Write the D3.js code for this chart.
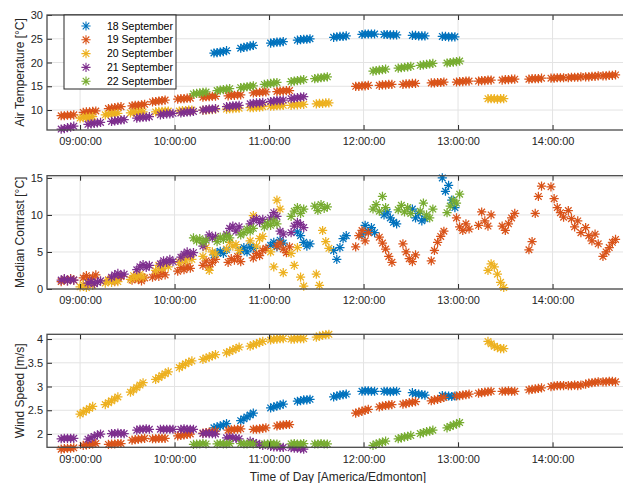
<!DOCTYPE html>
<html>
<head>
<meta charset="utf-8">
<script src="https://cdn.jsdelivr.net/npm/d3@7"></script>
<style>
  body { margin: 0; background: #fff; }
  svg { display: block; font-family: Arial, "Liberation Sans", sans-serif; }
</style>
</head>
<body>
<svg id="chart" width="623" height="483"></svg>
<script>
// sample times in minutes after midnight, one value per recorded point
const time18 = [625,627,629,631,633, 642,644,646,648,650, 661,663,665,667,669, 678,680,682,684,686, 701,703,705,707,709, 719,721,723,725,727, 733,735,737,739,741, 751,753,755,757,759, 770,772,774,776,778];
const temp18 = [22.0,22.1,22.2,22.3,22.5, 23.0,23.2,23.3,23.5,23.6, 24.1,24.2,24.3,24.3,24.4, 24.7,24.8,24.9,24.9,25.0, 25.3,25.4,25.5,25.5,25.6, 25.9,26.0,26.0,26.0,26.0, 25.9,25.9,25.8,25.8,25.8, 25.7,25.7,25.6,25.6,25.6, 25.5,25.5,25.4,25.4,25.4];
const contrast18 = [4.6,4.9,5.1,4.8,5.3, 5.2,5.6,5.0,5.8,5.5, 5.9,6.3,5.7,6.6,6.2, 7.7,7.2,6.3,5.8,6.1, 5.2,4.0,5.6,6.8,7.2, 7.3,8.6,7.8,8.3,7.6, 10.0,10.4,9.6,9.0,8.8, 10.8,9.6,10.2,9.2,9.5, 15.0,13.2,14.0,12.0,11.0];
const wind18 = [2.13,2.15,2.17,2.19,2.22, 2.28,2.32,2.36,2.40,2.44, 2.55,2.57,2.59,2.61,2.63, 2.69,2.70,2.72,2.72,2.73, 2.78,2.80,2.82,2.83,2.84, 2.90,2.91,2.91,2.90,2.90, 2.90,2.90,2.89,2.90,2.90, 2.87,2.85,2.84,2.83,2.82, 2.81,2.80,2.80,2.79,2.80];

const time19 = [528,530,532,534,536, 542,544,546,548,550, 558,560,562,564,566, 573,575,577,579,581, 586,588,590,592,594, 602,604,606,608,610, 618,620,622,624,626, 634,636,638,640,642, 650,652,654,656,658, 665,667,669,671,673, 715,717,719,721,723, 730,732,734,736,738, 745,747,749,751,753, 763,765,767,769,771, 779,781,783,785,787, 793,795,797,799,801, 808,810,812,814,816, 825,827,829,831,833, 839,841,843,845,847, 850,852,854,856,858, 861,863,865,867,869, 872,874,876,878,880];
const temp19 = [8.8,8.8,8.9,8.9,9.0, 9.5,9.6,9.6,9.7,9.8, 10.3,10.4,10.5,10.6,10.7, 10.9,11.0,11.0,11.1,11.2, 11.7,11.8,11.9,12.0,12.1, 12.3,12.4,12.4,12.5,12.5, 12.7,12.8,12.8,12.9,12.9, 13.0,13.1,13.1,13.2,13.2, 13.6,13.7,13.7,13.8,13.8, 13.9,14.0,14.0,14.1,14.1, 15.0,15.0,15.1,15.1,15.2, 15.2,15.3,15.3,15.4,15.4, 15.4,15.5,15.5,15.6,15.6, 15.7,15.7,15.8,15.8,15.9, 15.9,16.0,16.0,16.1,16.1, 16.1,16.2,16.2,16.3,16.3, 16.3,16.4,16.4,16.5,16.5, 16.5,16.6,16.6,16.6,16.7, 16.7,16.7,16.8,16.8,16.8, 16.8,16.9,16.9,16.9,17.0, 17.0,17.0,17.1,17.1,17.2, 17.2,17.2,17.3,17.3,17.4];
const contrast19 = [1.0,1.3,1.1,1.4,1.2, 1.5,1.8,1.3,1.6,1.9, 1.2,1.5,1.0,1.4,1.7, 1.2,1.6,1.3,1.1,1.5, 1.6,2.0,1.7,2.2,1.9, 2.4,2.9,2.6,3.1,2.8, 3.2,3.8,3.0,3.6,4.0, 3.6,4.1,3.9,4.4,3.7, 4.2,4.8,4.5,5.2,5.5, 5.8,6.2,5.4,4.9,5.7, 5.7,7.2,7.9,6.5,7.6, 7.0,6.2,5.4,4.4,3.6, 6.1,5.0,4.1,3.7,4.6, 3.8,5.2,6.3,7.1,7.8, 9.6,8.4,7.9,8.8,8.1, 8.6,10.4,9.2,8.5,10.0, 8.5,7.9,8.8,9.6,10.2, 5.3,6.4,10.2,12.5,13.9, 13.8,12.2,11.0,10.3,9.7, 10.6,9.5,8.4,9.2,7.6, 8.3,7.2,6.5,7.4,6.1, 4.4,5.0,5.6,6.3,6.7];
const wind19 = [1.68,1.69,1.70,1.70,1.71, 1.76,1.77,1.78,1.79,1.80, 1.78,1.79,1.79,1.80,1.80, 1.87,1.88,1.89,1.90,1.91, 1.90,1.90,1.91,1.91,1.91, 1.96,1.97,1.98,1.99,2.00, 2.02,2.03,2.04,2.05,2.06, 2.08,2.09,2.10,2.10,2.11, 2.10,2.10,2.11,2.12,2.13, 2.17,2.18,2.19,2.20,2.20, 2.44,2.46,2.48,2.50,2.52, 2.57,2.59,2.60,2.61,2.62, 2.63,2.64,2.66,2.67,2.68, 2.70,2.72,2.73,2.75,2.77, 2.80,2.81,2.82,2.83,2.84, 2.86,2.87,2.88,2.89,2.90, 2.90,2.90,2.91,2.90,2.90, 2.93,2.94,2.95,2.96,2.97, 3.00,3.01,3.02,3.02,3.02, 3.02,3.02,3.03,3.02,3.03, 3.05,3.07,3.08,3.09,3.10, 3.10,3.10,3.11,3.11,3.10];

const time20 = [540,542,544,546,548, 556,558,560,562,564, 572,574,576,578,580, 588,590,592,594,596, 603,605,607,609,611, 618,620,622,624,626, 633,635,637,639,641, 648,650,652,654,656, 661,663,665,667,669, 674,676,678,680,682, 690,692,694,696,698, 799,801,803,805,807,809];
const temp20 = [8.3,8.4,8.5,8.5,8.6, 9.0,9.1,9.2,9.2,9.3, 9.4,9.5,9.5,9.6,9.6, 9.6,9.7,9.7,9.8,9.8, 9.8,9.9,9.9,10.0,10.0, 10.0,10.0,10.1,10.1,10.2, 10.2,10.3,10.3,10.4,10.4, 10.5,10.5,10.6,10.6,10.7, 10.8,10.8,10.9,10.9,11.0, 11.0,11.1,11.1,11.2,11.2, 11.3,11.4,11.4,11.5,11.5, 12.4,12.4,12.4,12.3,12.4,12.4];
const contrast20 = [0.3,0.6,0.2,0.8,0.5, 0.8,1.2,0.9,1.3,1.0, 1.3,1.8,1.5,2.0,1.6, 2.5,3.2,2.8,3.4,3.0, 3.6,4.2,3.8,4.5,4.0, 4.4,5.6,2.5,5.0,4.7, 5.4,6.3,5.8,6.0,5.2, 6.5,9.9,5.8,6.8,7.1, 5.0,3.0,12.0,10.8,2.2, 4.8,3.2,5.6,1.6,0.4, 2.0,0.5,7.9,6.4,5.5, 2.5,3.4,3.0,2.0,0.9,0.2];
const wind20 = [2.42,2.46,2.50,2.54,2.58, 2.62,2.66,2.70,2.74,2.78, 2.88,2.93,2.98,3.03,3.08, 3.15,3.19,3.23,3.27,3.31, 3.40,3.44,3.48,3.51,3.54, 3.57,3.60,3.62,3.65,3.67, 3.71,3.74,3.77,3.80,3.83, 3.85,3.88,3.90,3.93,3.95, 3.98,4.00,4.00,4.01,4.01, 4.00,4.00,4.01,4.01,4.01, 4.04,4.06,4.08,4.09,4.10, 3.95,3.90,3.85,3.82,3.80,3.80];

const time21 = [528,530,532,534,536, 545,547,549,551,553, 560,562,564,566,568, 576,578,580,582,584, 591,593,595,597,599, 604,606,608,610,612, 618,620,622,624,626, 633,635,637,639,641, 648,650,652,654,656, 661,663,665,667,669, 674,676,678,680,682];
const temp21 = [6.0,6.1,6.3,6.4,6.6, 7.0,7.1,7.2,7.3,7.4, 7.6,7.7,7.8,7.9,8.0, 8.3,8.4,8.5,8.5,8.6, 9.0,9.1,9.2,9.2,9.3, 9.4,9.5,9.6,9.6,9.7, 10.0,10.1,10.2,10.2,10.3, 10.7,10.8,10.9,10.9,11.0, 11.3,11.4,11.5,11.5,11.6, 11.8,11.9,12.0,12.0,12.1, 12.4,12.5,12.6,12.7,12.8];
const contrast21 = [1.2,1.4,1.1,1.3,1.2, 0.8,1.0,0.7,0.9,1.1, 1.6,1.9,2.1,1.8,2.0, 2.6,3.0,3.3,2.9,3.2, 3.4,3.8,3.6,4.0,3.7, 4.3,4.7,5.0,4.6,4.9, 5.8,6.6,7.3,6.9,7.1, 7.4,8.2,8.5,7.8,8.4, 8.8,9.3,9.5,9.0,9.4, 9.6,10.3,9.8,7.8,7.4, 7.6,8.5,9.0,8.7,8.3];
const wind21 = [1.90,1.91,1.91,1.91,1.91, 1.89,1.92,1.95,1.98,2.00, 2.01,2.01,2.02,2.01,2.01, 2.08,2.10,2.10,2.11,2.10, 2.10,2.10,2.10,2.10,2.10, 2.10,2.11,2.10,2.10,2.10, 2.01,2.02,2.01,2.01,2.00, 1.92,1.93,1.92,1.91,1.90, 1.85,1.82,1.80,1.78,1.76, 1.74,1.73,1.73,1.72,1.72, 1.71,1.70,1.70,1.69,1.68];

const time22 = [612,614,616,618,620, 627,629,631,633,635, 642,644,646,648,650, 657,659,661,663,665, 674,676,678,680,682, 689,691,693,695,697, 726,728,730,732,734, 742,744,746,748,750, 756,758,760,762,764, 773,775,777,779,781];
const temp22 = [13.4,13.5,13.6,13.7,13.8, 14.1,14.2,14.3,14.4,14.5, 14.7,14.8,14.9,15.0,15.1, 15.4,15.5,15.6,15.7,15.8, 16.0,16.1,16.2,16.3,16.4, 16.6,16.7,16.8,16.9,17.0, 18.2,18.3,18.4,18.5,18.6, 18.8,18.9,19.0,19.1,19.2, 19.4,19.5,19.6,19.7,19.8, 19.9,20.0,20.1,20.2,20.3];
const contrast22 = [6.9,6.5,6.8,6.3,6.6, 6.4,7.0,6.7,7.2,6.9, 7.3,7.6,8.1,7.8,8.2, 8.4,8.9,8.6,9.2,8.8, 9.8,10.5,11.0,10.2,10.8, 11.2,10.6,11.4,10.9,11.1, 10.8,11.4,10.5,12.5,11.0, 10.7,11.3,10.4,11.0,10.2, 10.5,11.6,10.0,9.6,10.8, 10.3,11.2,12.0,11.6,12.8];
const wind22 = [1.78,1.79,1.79,1.80,1.79, 1.79,1.80,1.79,1.79,1.80, 1.80,1.79,1.79,1.80,1.79, 1.79,1.79,1.80,1.79,1.79, 1.79,1.80,1.79,1.79,1.80, 1.79,1.79,1.80,1.79,1.79, 1.76,1.79,1.81,1.83,1.85, 1.90,1.92,1.94,1.95,1.97, 2.01,2.03,2.05,2.06,2.08, 2.13,2.16,2.19,2.21,2.24];

const dayNames = ['18 September', '19 September', '20 September', '21 September', '22 September'];
const dayColors = ['#0072BD', '#D95319', '#EDB120', '#7E2F8E', '#77AC30'];
const timeTicks = [540, 600, 660, 720, 780, 840];
const tempTicks = [10, 15, 20, 25, 30];
const contrastTicks = [0, 5, 10, 15];
const windTicks = [2, 2.5, 3, 3.5, 4];

const days = [
  { time: time18, temp: temp18, contrast: contrast18, wind: wind18 },
  { time: time19, temp: temp19, contrast: contrast19, wind: wind19 },
  { time: time20, temp: temp20, contrast: contrast20, wind: wind20 },
  { time: time21, temp: temp21, contrast: contrast21, wind: wind21 },
  { time: time22, temp: temp22, contrast: contrast22, wind: wind22 }
];

const panels = [
  { key: 'temp', top: 15, bottom: 130, domain: [5.8, 30], ticks: tempTicks, label: 'Air Temperature [°C]' },
  { key: 'contrast', top: 175.7, bottom: 289, domain: [0, 15.3], ticks: contrastTicks, label: 'Median Contrast [°C]' },
  { key: 'wind', top: 334.3, bottom: 447.3, domain: [1.72, 4.1], ticks: windTicks, label: 'Wind Speed [m/s]' }
];

const left = 47, right = 625;
const ink = '#262626';

const svg = d3.select('#chart');
const x = d3.scaleLinear().domain([519, 886]).range([left, right]);

const pad2 = n => String(n).padStart(2, '0');
const fmtTime = m => `${pad2(Math.floor(m / 60))}:${pad2(m % 60)}:00`;

// matlab style '*' marker
const r = 4.6, a = 3.3;
const star = `M${-r},0H${r}M0,${-r}V${r}M${-a},${-a}L${a},${a}M${-a},${a}L${a},${-a}`;

panels.forEach(p => {
  const y = d3.scaleLinear().domain(p.domain).range([p.bottom, p.top]);
  const g = svg.append('g');

  // grid
  g.selectAll('.vgrid').data(timeTicks).enter().append('line')
    .attr('x1', d => x(d)).attr('x2', d => x(d))
    .attr('y1', p.top).attr('y2', p.bottom)
    .attr('stroke', '#e3e3e3').attr('stroke-width', 1);
  g.selectAll('.hgrid').data(p.ticks).enter().append('line')
    .attr('x1', left).attr('x2', right)
    .attr('y1', d => y(d)).attr('y2', d => y(d))
    .attr('stroke', '#e3e3e3').attr('stroke-width', 1);

  // markers, drawn day by day so later days sit on top
  days.forEach((day, k) => {
    const pts = day.time.map((t, i) => [t, day[p.key][i]]);
    g.append('g')
      .selectAll('path')
      .data(pts)
      .enter()
      .append('path')
      .attr('d', star)
      .attr('transform', d => `translate(${x(d[0])},${y(d[1])})`)
      .attr('fill', 'none')
      .attr('stroke', dayColors[k])
      .attr('stroke-width', 1.25);
  });

  // axes with inward ticks
  const ax = g.append('g').attr('transform', `translate(0,${p.bottom})`)
    .call(d3.axisBottom(x).tickValues(timeTicks).tickFormat(fmtTime).tickSize(-5).tickPadding(7.5));
  const axTop = g.append('g').attr('transform', `translate(0,${p.top})`)
    .call(d3.axisTop(x).tickValues(timeTicks).tickFormat('').tickSize(-5));
  const ay = g.append('g').attr('transform', `translate(${left},0)`)
    .call(d3.axisLeft(y).tickValues(p.ticks).tickFormat(d3.format('~g')).tickSize(-5).tickPadding(4));

  [ax, axTop, ay].forEach(s => {
    s.select('.domain').remove();
    s.selectAll('line').attr('stroke', ink);
    s.selectAll('text').attr('fill', ink).style('font-size', '11px')
      .style('font-family', 'Arial, "Liberation Sans", sans-serif');
  });

  // frame
  g.append('rect')
    .attr('x', left).attr('y', p.top)
    .attr('width', right - left).attr('height', p.bottom - p.top)
    .attr('fill', 'none').attr('stroke', '#4a4a4a').attr('stroke-width', 1.3);

  g.append('text')
    .attr('transform', `translate(20,${(p.top + p.bottom) / 2}) rotate(-90)`)
    .attr('text-anchor', 'middle')
    .attr('dy', '0.35em')
    .attr('fill', ink)
    .style('font-size', '12px')
    .text(p.label);
});

svg.append('text')
  .attr('x', 338).attr('y', 481)
  .attr('text-anchor', 'middle')
  .attr('fill', ink)
  .style('font-size', '12px')
  .text('Time of Day [America/Edmonton]');

// legend
const legend = svg.append('g');
legend.append('rect')
  .attr('x', 64).attr('y', 15).attr('width', 112).attr('height', 74)
  .attr('fill', '#fff').attr('stroke', ink).attr('stroke-width', 1);

const rowH = 13.8;
legend.selectAll('.lm').data(dayNames).enter().append('path')
  .attr('d', star)
  .attr('transform', (d, i) => `translate(86,${26 + i * rowH})`)
  .attr('fill', 'none')
  .attr('stroke', (d, i) => dayColors[i])
  .attr('stroke-width', 1.1);

legend.selectAll('.lt').data(dayNames).enter().append('text')
  .attr('x', 107)
  .attr('y', (d, i) => 26 + i * rowH)
  .attr('dy', '0.35em')
  .attr('fill', '#000')
  .style('font-size', '10.5px')
  .text(d => d);
</script>
</body>
</html>
